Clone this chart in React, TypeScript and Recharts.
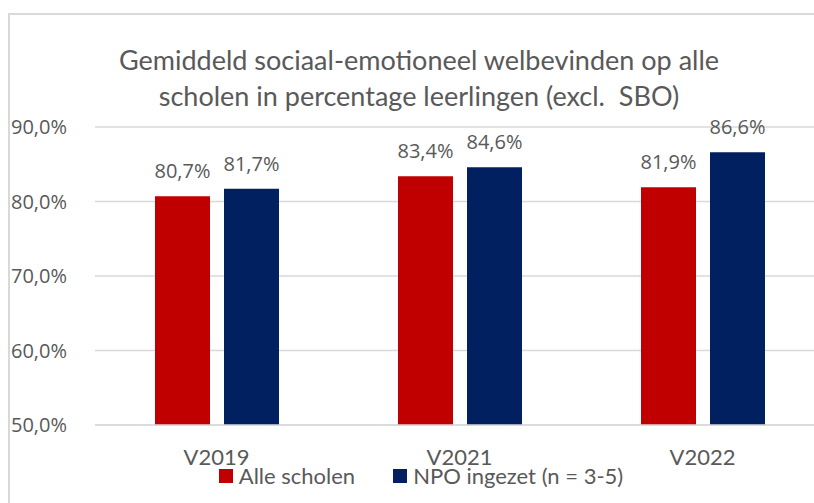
import * as React from "react";
import { BarChart, Bar, XAxis, YAxis, CartesianGrid, LabelList } from "recharts";

const categories = ["V2019", "V2021", "V2022"];
const alleScholen = [0.807, 0.834, 0.819];
const npoIngezet = [0.817, 0.846, 0.866];
const yTicks = [0.5, 0.6, 0.7, 0.8, 0.9];

const titleLines = [
  "Gemiddeld sociaal-emotioneel welbevinden op alle",
  "scholen in percentage leerlingen (excl.  SBO)",
];

const data = categories.map((name, i) => ({
  name,
  alle: alleScholen[i],
  npo: npoIngezet[i],
}));

const pct = (v: number) => (v * 100).toFixed(1).replace(".", ",") + "%";

const TEXT = "#595959";
const GRID = "#D9D9D9";
const RED = "#C00000";
const BLUE = "#002060";

const XTick = (props: any) => {
  const { x, y, payload } = props;
  return (
    <text x={x} y={y} dy={32} textAnchor="middle" fill={TEXT} fontSize={22} fontFamily="Lato">
      {payload?.value}
    </text>
  );
};

export default function App() {
  return (
    <div
      style={{
        position: "absolute",
        left: 8,
        top: 13,
        width: 822,
        height: 500,
        border: `2px solid ${GRID}`,
        boxSizing: "border-box",
        background: "#fff",
        overflow: "hidden",
      }}
    >
      <div
        style={{
          position: "absolute",
          left: 0,
          top: 27,
          width: 818,
          textAlign: "center",
          fontFamily: "Lato",
          fontSize: 27,
          lineHeight: "36px",
          color: TEXT,
          whiteSpace: "pre",
        }}
      >
        {titleLines.map((l) => (
          <div key={l}>{l}</div>
        ))}
      </div>
      <BarChart
        width={822}
        height={498}
        data={data}
        barSize={55}
        barGap={14}
        margin={{ top: 114, right: 6, left: 0, bottom: 56 }}
        style={{ position: "absolute", left: -2, top: -2 }}
      >
        <CartesianGrid vertical={false} stroke={GRID} strokeWidth={1.5} />
        <XAxis
          dataKey="name"
          tick={<XTick />}
          tickLine={false}
          axisLine={{ stroke: GRID, strokeWidth: 1.5 }}
          height={30}
        />
        <YAxis
          domain={[0.5, 0.9]}
          ticks={yTicks}
          tickFormatter={pct}
          axisLine={false}
          tickLine={false}
          width={87}
          tickMargin={22}
          tick={{ fill: TEXT, fontSize: 20, fontFamily: "Open Sans" }}
        />
        <Bar dataKey="alle" fill={RED} isAnimationActive={false}>
          <LabelList
            dataKey="alle"
            position="top"
            offset={18}
            formatter={(v: any) => pct(Number(v))}
            fill={TEXT}
            fontSize={20}
            fontFamily="Open Sans"
          />
        </Bar>
        <Bar dataKey="npo" fill={BLUE} isAnimationActive={false}>
          <LabelList
            dataKey="npo"
            position="top"
            offset={18}
            formatter={(v: any) => pct(Number(v))}
            fill={TEXT}
            fontSize={20}
            fontFamily="Open Sans"
          />
        </Bar>
      </BarChart>
      <div
        style={{
          position: "absolute",
          left: 0,
          top: 447,
          width: 822,
          display: "flex",
          justifyContent: "center",
          alignItems: "center",
          fontFamily: "Lato",
          fontSize: 22,
          color: TEXT,
        }}
      >
        <span style={{ width: 14, height: 14, background: RED, marginRight: 6 }} />
        <span style={{ marginRight: 38 }}>Alle scholen</span>
        <span style={{ width: 14, height: 14, background: BLUE, marginRight: 6 }} />
        <span>NPO ingezet (n = 3-5)</span>
      </div>
    </div>
  );
}
